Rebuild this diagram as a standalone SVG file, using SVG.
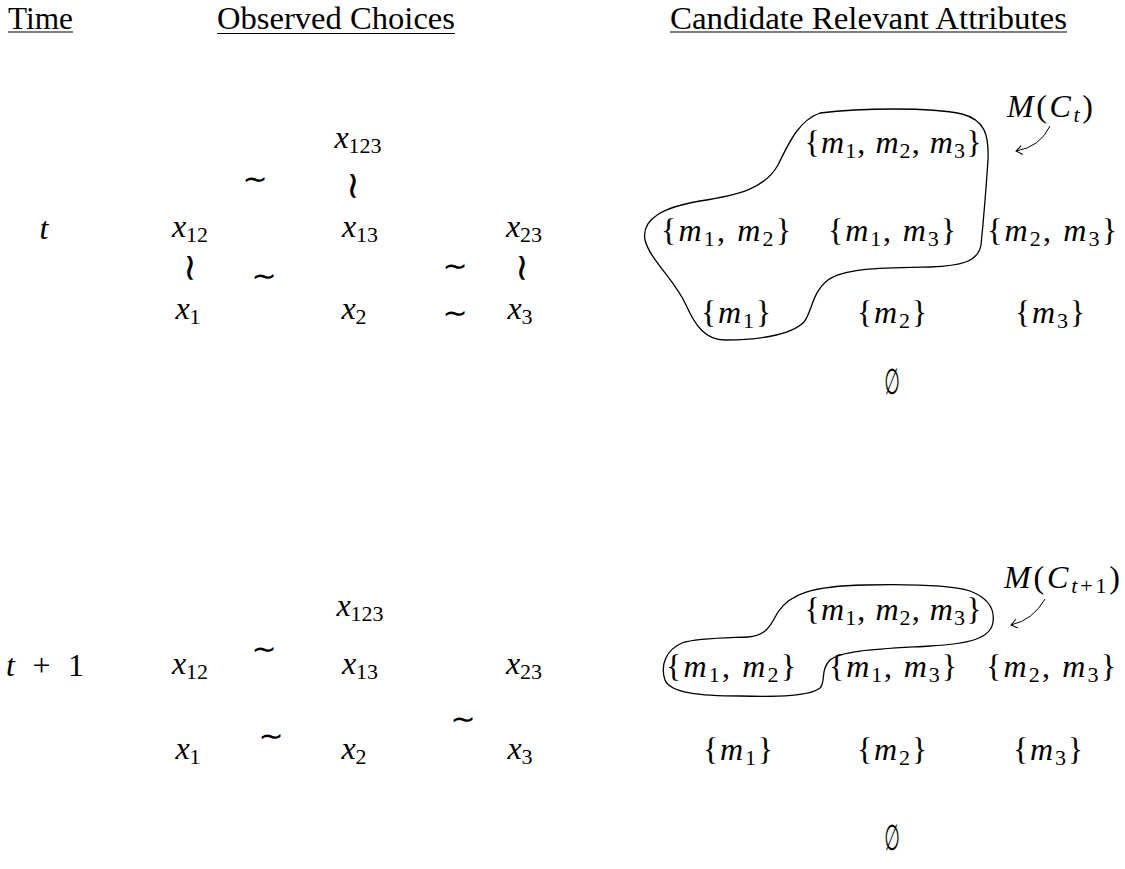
<svg xmlns="http://www.w3.org/2000/svg" width="1125" height="869" viewBox="0 0 1125 869">
<style>
.tx{font-family:"Liberation Serif","DejaVu Serif",serif;font-size:32px;fill:#000}
.hd{font-family:"Liberation Serif","DejaVu Serif",serif;font-size:31px;fill:#000}
.i{font-style:italic}
.s{font-size:22px;font-style:normal}
.sym{font-family:"DejaVu Sans","DejaVu Serif",sans-serif;font-size:30px;fill:#000;text-anchor:middle}
.rot{font-family:"DejaVu Sans","DejaVu Serif",sans-serif;font-size:38px;fill:#000;text-anchor:middle}
.es{font-family:"DejaVu Sans","DejaVu Serif",sans-serif;font-size:36px;fill:#000;text-anchor:middle}
.ul{stroke:#000;stroke-width:1.2}
.blob{fill:none;stroke:#000;stroke-width:1.3}
.arr{fill:none;stroke:#000;stroke-width:1}
</style>
<defs>
<marker id="to" viewBox="-8 -6 10 12" markerWidth="10" markerHeight="12" refX="0" refY="0" orient="auto" markerUnits="userSpaceOnUse">
<path d="M -6,-4.5 Q -1.5,-1 0,0 Q -1.5,1 -6,4.5" fill="none" stroke="#000" stroke-width="1"/>
</marker>
</defs>
<rect width="1125" height="869" fill="#fff"/>

<g id="headers">
<text class="hd" x="8" y="29" textLength="65" lengthAdjust="spacingAndGlyphs">Time</text>
<line class="ul" x1="8" y1="32" x2="73" y2="32"/>
<text class="hd" x="217" y="29" textLength="238" lengthAdjust="spacingAndGlyphs">Observed Choices</text>
<line class="ul" x1="217" y1="33.5" x2="455" y2="33.5"/>
<text class="hd" x="670" y="29" textLength="397" lengthAdjust="spacingAndGlyphs">Candidate Relevant Attributes</text>
<line class="ul" x1="670" y1="32" x2="1067" y2="32"/>
</g>

<g id="time-t"><text class="tx i" x="44" y="239" text-anchor="middle">t</text></g>
<g id="time-t1"><text class="tx" x="6" y="676" textLength="78" lengthAdjust="spacing"><tspan class="i">t</tspan> + 1</text></g>

<!-- top observed choices -->
<g id="t-x123"><text class="tx" x="358" y="148" text-anchor="middle"><tspan class="i">x</tspan><tspan class="s" dy="5">123</tspan></text></g>
<g id="t-x12"><text class="tx" x="190" y="237" text-anchor="middle"><tspan class="i">x</tspan><tspan class="s" dy="5">12</tspan></text></g>
<g id="t-x13"><text class="tx" x="360" y="237" text-anchor="middle"><tspan class="i">x</tspan><tspan class="s" dy="5">13</tspan></text></g>
<g id="t-x23"><text class="tx" x="524" y="237" text-anchor="middle"><tspan class="i">x</tspan><tspan class="s" dy="5">23</tspan></text></g>
<g id="t-x1"><text class="tx" x="188" y="319" text-anchor="middle"><tspan class="i">x</tspan><tspan class="s" dy="5">1</tspan></text></g>
<g id="t-x2"><text class="tx" x="354" y="319" text-anchor="middle"><tspan class="i">x</tspan><tspan class="s" dy="5">2</tspan></text></g>
<g id="t-x3"><text class="tx" x="520" y="319" text-anchor="middle"><tspan class="i">x</tspan><tspan class="s" dy="5">3</tspan></text></g>

<!-- bottom observed choices -->
<g id="b-x123"><text class="tx" x="360" y="616" text-anchor="middle"><tspan class="i">x</tspan><tspan class="s" dy="5">123</tspan></text></g>
<g id="b-x12"><text class="tx" x="190" y="674" text-anchor="middle"><tspan class="i">x</tspan><tspan class="s" dy="5">12</tspan></text></g>
<g id="b-x13"><text class="tx" x="360" y="674" text-anchor="middle"><tspan class="i">x</tspan><tspan class="s" dy="5">13</tspan></text></g>
<g id="b-x23"><text class="tx" x="524" y="674" text-anchor="middle"><tspan class="i">x</tspan><tspan class="s" dy="5">23</tspan></text></g>
<g id="b-x1"><text class="tx" x="188" y="759" text-anchor="middle"><tspan class="i">x</tspan><tspan class="s" dy="5">1</tspan></text></g>
<g id="b-x2"><text class="tx" x="354" y="759" text-anchor="middle"><tspan class="i">x</tspan><tspan class="s" dy="5">2</tspan></text></g>
<g id="b-x3"><text class="tx" x="520" y="759" text-anchor="middle"><tspan class="i">x</tspan><tspan class="s" dy="5">3</tspan></text></g>

<!-- indifference relations (horizontal and rotated) -->
<g id="relations">
<text class="sym" x="255" y="189">∼</text>
<text class="rot" transform="translate(354,186) rotate(90)" x="0" y="13">∼</text>
<text class="rot" transform="translate(191,268) rotate(90)" x="0" y="13">∼</text>
<text class="sym" x="264" y="286">∼</text>
<text class="sym" x="455" y="276">∼</text>
<text class="rot" transform="translate(523,268) rotate(90)" x="0" y="13">∼</text>
<text class="sym" x="455" y="323">∼</text>
<text class="sym" x="264" y="659">∼</text>
<text class="sym" x="271" y="746">∼</text>
<text class="sym" x="463" y="729">∼</text>
</g>

<!-- top candidate attributes -->
<g id="t-m123"><text class="tx" x="893" y="153" text-anchor="middle" textLength="177" lengthAdjust="spacing">{<tspan class="i">m</tspan><tspan class="s" dy="5">1</tspan><tspan dy="-5">, </tspan><tspan class="i">m</tspan><tspan class="s" dy="5">2</tspan><tspan dy="-5">, </tspan><tspan class="i">m</tspan><tspan class="s" dy="5">3</tspan><tspan dy="-5">}</tspan></text></g>
<g id="t-m12"><text class="tx" x="726" y="241" text-anchor="middle" textLength="130" lengthAdjust="spacing">{<tspan class="i">m</tspan><tspan class="s" dy="5">1</tspan><tspan dy="-5">, </tspan><tspan class="i">m</tspan><tspan class="s" dy="5">2</tspan><tspan dy="-5">}</tspan></text></g>
<g id="t-m13"><text class="tx" x="892" y="241" text-anchor="middle" textLength="128" lengthAdjust="spacing">{<tspan class="i">m</tspan><tspan class="s" dy="5">1</tspan><tspan dy="-5">, </tspan><tspan class="i">m</tspan><tspan class="s" dy="5">3</tspan><tspan dy="-5">}</tspan></text></g>
<g id="t-m23"><text class="tx" x="1052" y="241" text-anchor="middle" textLength="130" lengthAdjust="spacing">{<tspan class="i">m</tspan><tspan class="s" dy="5">2</tspan><tspan dy="-5">, </tspan><tspan class="i">m</tspan><tspan class="s" dy="5">3</tspan><tspan dy="-5">}</tspan></text></g>
<g id="t-m1"><text class="tx" x="736" y="323" text-anchor="middle" textLength="70" lengthAdjust="spacing">{<tspan class="i">m</tspan><tspan class="s" dy="5">1</tspan><tspan dy="-5">}</tspan></text></g>
<g id="t-m2"><text class="tx" x="892" y="323" text-anchor="middle" textLength="70" lengthAdjust="spacing">{<tspan class="i">m</tspan><tspan class="s" dy="5">2</tspan><tspan dy="-5">}</tspan></text></g>
<g id="t-m3"><text class="tx" x="1050" y="323" text-anchor="middle" textLength="70" lengthAdjust="spacing">{<tspan class="i">m</tspan><tspan class="s" dy="5">3</tspan><tspan dy="-5">}</tspan></text></g>
<g id="t-empty"><text class="es" transform="translate(892,394) scale(0.5,1)">∅</text></g>
<g id="t-label"><text class="tx" x="1007" y="117" textLength="86" lengthAdjust="spacing"><tspan class="i">M</tspan>(<tspan class="i">C</tspan><tspan class="s" dy="5" style="font-style:italic">t</tspan><tspan dy="-5">)</tspan></text></g>

<!-- bottom candidate attributes -->
<g id="b-m123"><text class="tx" x="893" y="620" text-anchor="middle" textLength="177" lengthAdjust="spacing">{<tspan class="i">m</tspan><tspan class="s" dy="5">1</tspan><tspan dy="-5">, </tspan><tspan class="i">m</tspan><tspan class="s" dy="5">2</tspan><tspan dy="-5">, </tspan><tspan class="i">m</tspan><tspan class="s" dy="5">3</tspan><tspan dy="-5">}</tspan></text></g>
<g id="b-m12"><text class="tx" x="731" y="677" text-anchor="middle" textLength="130" lengthAdjust="spacing">{<tspan class="i">m</tspan><tspan class="s" dy="5">1</tspan><tspan dy="-5">, </tspan><tspan class="i">m</tspan><tspan class="s" dy="5">2</tspan><tspan dy="-5">}</tspan></text></g>
<g id="b-m13"><text class="tx" x="893" y="677" text-anchor="middle" textLength="128" lengthAdjust="spacing">{<tspan class="i">m</tspan><tspan class="s" dy="5">1</tspan><tspan dy="-5">, </tspan><tspan class="i">m</tspan><tspan class="s" dy="5">3</tspan><tspan dy="-5">}</tspan></text></g>
<g id="b-m23"><text class="tx" x="1051" y="677" text-anchor="middle" textLength="130" lengthAdjust="spacing">{<tspan class="i">m</tspan><tspan class="s" dy="5">2</tspan><tspan dy="-5">, </tspan><tspan class="i">m</tspan><tspan class="s" dy="5">3</tspan><tspan dy="-5">}</tspan></text></g>
<g id="b-m1"><text class="tx" x="738" y="760" text-anchor="middle" textLength="70" lengthAdjust="spacing">{<tspan class="i">m</tspan><tspan class="s" dy="5">1</tspan><tspan dy="-5">}</tspan></text></g>
<g id="b-m2"><text class="tx" x="892" y="760" text-anchor="middle" textLength="70" lengthAdjust="spacing">{<tspan class="i">m</tspan><tspan class="s" dy="5">2</tspan><tspan dy="-5">}</tspan></text></g>
<g id="b-m3"><text class="tx" x="1048" y="760" text-anchor="middle" textLength="70" lengthAdjust="spacing">{<tspan class="i">m</tspan><tspan class="s" dy="5">3</tspan><tspan dy="-5">}</tspan></text></g>
<g id="b-empty"><text class="es" transform="translate(892,850) scale(0.5,1)">∅</text></g>
<g id="b-label"><text class="tx" x="1004" y="588" textLength="116" lengthAdjust="spacing"><tspan class="i">M</tspan>(<tspan class="i">C</tspan><tspan class="s" dy="5"><tspan style="font-style:italic">t</tspan>+1</tspan><tspan dy="-5">)</tspan></text></g>

<!-- enclosing regions -->
<g id="region-t">
<path class="blob" d="M 820,113 C 860,108 930,107 962,114 C 985,120 989,135 988,160 C 986,190 983,225 981,245 C 978,262 960,266 930,267 C 880,268 845,268 828,280 C 812,292 812,312 804,322 C 790,336 755,340 725,340 C 705,340 695,325 686,305 C 675,280 650,260 645,240 C 641,218 665,207 700,201 C 740,195 765,188 778,165 C 790,140 800,120 820,113 Z"/>
</g>
<g id="region-t1">
<path class="blob" d="M 778,612 C 790,594 812,586 865,585 C 910,584 950,585 970,591 C 988,598 995,608 993,622 C 991,638 970,644 930,646 C 880,649 842,650 830,660 C 820,670 826,682 820,688 C 810,696 780,697 740,696 C 700,696 670,693 665,680 C 660,665 666,650 682,643 C 697,638 725,638 748,637 C 768,636 772,622 778,612 Z"/>
</g>

<g id="connectors">
<path class="arr" d="M 1050,126 Q 1040,147 1016,151" marker-end="url(#to)"/>
<path class="arr" d="M 1045,599 Q 1033,620 1011,625" marker-end="url(#to)"/>
</g>
</svg>
